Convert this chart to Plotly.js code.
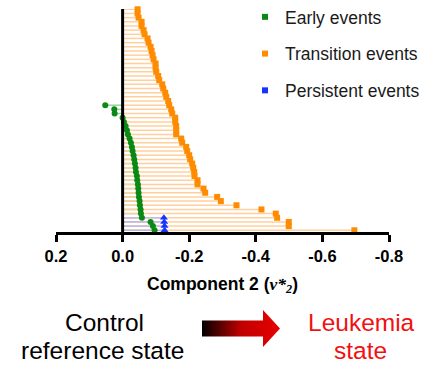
<!DOCTYPE html>
<html>
<head>
<meta charset="utf-8">
<script src="https://cdn.plot.ly/plotly-3.0.1.min.js"></script>
<style>html,body{margin:0;padding:0;background:#fff;}#chart{width:439px;height:368px;}</style>
</head>
<body>
<div id="chart"></div>
<script>
// ---- Data (listed top row to bottom row) ----
const seriesNames = ["Early events", "Transition events", "Persistent events"];
const transitionValues = [-0.045,-0.045,-0.048,-0.057,-0.057,-0.063,-0.066,-0.075,-0.078,-0.084,-0.087,-0.090,-0.093,-0.099,-0.099,-0.101,-0.107,-0.110,-0.119,-0.122,-0.128,-0.131,-0.137,-0.140,-0.146,-0.149,-0.158,-0.158,-0.161,-0.161,-0.161,-0.176,-0.179,-0.191,-0.194,-0.200,-0.203,-0.209,-0.212,-0.215,-0.216,-0.225,-0.225,-0.243,-0.248,-0.284,-0.295,-0.342,-0.417,-0.460,-0.464,-0.499,-0.499,-0.696];
const earlyValues = [0.052,0.025,0.024,0.000,-0.004,-0.009,-0.013,-0.016,-0.021,-0.025,-0.028,-0.030,-0.033,-0.035,-0.037,-0.039,-0.040,-0.043,-0.044,-0.046,-0.047,-0.048,-0.049,-0.051,-0.052,-0.054,-0.055,-0.058,-0.084,-0.091,-0.096];
const persistentValues = [-0.124,-0.125,-0.126,-0.126];
const tickValues = [0.2, 0.0, -0.2, -0.4, -0.6, -0.8];
const tickLabels = ["0.2", "0.0", "-0.2", "-0.4", "-0.6", "-0.8"];
const xTitle = "Component 2 (<i><span style=\"font-family:Liberation Serif\">v*<sub>2</sub></span></i>)";
const leftLabel = ["Control", "reference state"];
const rightLabel = ["Leukemia", "state"];

// rank of each row (0 = bottom row)
function ranks(vals) { return vals.map((v, i) => vals.length - 1 - i); }
function stems(vals) {
  const r = ranks(vals), x = [], y = [];
  vals.forEach((v, i) => { x.push(0, v, null); y.push(r[i], r[i], null); });
  return {x, y};
}

const colors = {early: "#0a8a14", trans: "#ff8c00", pers: "#1533ff"};
const lineColors = {early: "#9fd09f", trans: "#ffcf9e", pers: "#b7b3f2"};

const sE = stems(earlyValues), sT = stems(transitionValues), sP = stems(persistentValues);
const traces = [
  {x: sE.x, y: sE.y, mode: "lines", line: {color: lineColors.early, width: 1.5}, showlegend: false, hoverinfo: "skip"},
  {x: sT.x, y: sT.y, mode: "lines", line: {color: lineColors.trans, width: 1.5}, showlegend: false, hoverinfo: "skip"},
  {x: sP.x, y: sP.y, mode: "lines", line: {color: lineColors.pers, width: 1.2}, showlegend: false, hoverinfo: "skip"},
  {x: transitionValues, y: ranks(transitionValues), mode: "markers", cliponaxis: false,
   marker: {symbol: "square", size: 6, color: colors.trans}, showlegend: false},
  {x: earlyValues, y: ranks(earlyValues), mode: "markers", cliponaxis: false,
   marker: {symbol: "circle", size: 6, color: colors.early}, showlegend: false},
  {x: persistentValues, y: ranks(persistentValues), mode: "markers", cliponaxis: false,
   marker: {symbol: "triangle-up", size: 7, color: colors.pers}, showlegend: false},
  // legend entries
  {x: [null], y: [null], mode: "markers", name: seriesNames[0], legendgroup: "a",
   marker: {symbol: "square", size: 6, color: colors.early}},
  {x: [null], y: [null], mode: "markers", name: seriesNames[1], legendgroup: "b",
   marker: {symbol: "square", size: 6, color: colors.trans}},
  {x: [null], y: [null], mode: "markers", name: seriesNames[2], legendgroup: "c",
   marker: {symbol: "square", size: 6, color: colors.pers}}
];

// plot area in px: x 56..389, y 9..232
const PL = 56, PR = 389, PT = 9, PB = 232;
const px = v => (v - PL) / (PR - PL);
const py = v => (PB - v) / (PB - PT);

const arrowSvg = '<svg xmlns="http://www.w3.org/2000/svg" width="78" height="37" viewBox="0 0 78 37" preserveAspectRatio="none">' +
  '<defs><linearGradient id="g" x1="0" y1="0" x2="1" y2="0">' +
  '<stop offset="0" stop-color="#000"/><stop offset="0.5" stop-color="#c00000"/><stop offset="1" stop-color="#e80000"/></linearGradient></defs>' +
  '<path d="M0 10.5 H61 V0 L78 18.5 L61 37 V26.5 H0 Z" fill="url(#g)"/></svg>';

const annFont = {family: "Arial, 'Liberation Sans', sans-serif", size: 24.5};
const redFont = Object.assign({}, annFont, {color: "#f21010"});
const layout = {
  width: 439, height: 368,
  margin: {l: PL, r: 439 - PR, t: PT, b: 368 - PB, autoexpand: false},
  paper_bgcolor: "#fff", plot_bgcolor: "#fff",
  font: {family: "Arial, 'Liberation Sans', sans-serif", color: "#000"},
  xaxis: {
    range: [0.2, -0.8], tickvals: tickValues, ticktext: tickLabels,
    showgrid: false, zeroline: false, automargin: false,
    showline: true, linecolor: "#000", linewidth: 3,
    ticks: "outside", ticklen: 7, tickwidth: 3, tickcolor: "#000",
    tickfont: {size: 16.5, weight: "bold", color: "#000"},
    title: {text: xTitle, font: {size: 17.5, weight: "bold", color: "#000"}, standoff: 14}
  },
  yaxis: {range: [-0.41, 53.07], showgrid: false, zeroline: false, showline: false,
          showticklabels: false, ticks: "", automargin: false},
  shapes: [{type: "line", xref: "x", yref: "paper", x0: 0, x1: 0, y0: 0, y1: 1,
            line: {color: "#000", width: 3}, layer: "above"}],
  legend: {x: px(245), y: 1.045, xanchor: "left", yanchor: "top", traceorder: "grouped",
           tracegroupgap: 11, font: {size: 17.5, color: "#1a1a1a"}, bgcolor: "rgba(0,0,0,0)"},
  annotations: [
    {text: leftLabel[0], xref: "paper", yref: "paper", x: px(104), y: py(322), showarrow: false, font: annFont, xanchor: "center", yanchor: "middle"},
    {text: leftLabel[1], xref: "paper", yref: "paper", x: px(102), y: py(350), showarrow: false, font: annFont, xanchor: "center", yanchor: "middle"},
    {text: rightLabel[0], xref: "paper", yref: "paper", x: px(361), y: py(322), showarrow: false, font: redFont, xanchor: "center", yanchor: "middle"},
    {text: rightLabel[1], xref: "paper", yref: "paper", x: px(360.5), y: py(350), showarrow: false, font: redFont, xanchor: "center", yanchor: "middle"}
  ],
  images: [{
    source: "data:image/svg+xml;charset=utf-8," + encodeURIComponent(arrowSvg),
    xref: "paper", yref: "paper", x: px(202), y: py(310), sizex: (280 - 202) / (PR - PL), sizey: (347 - 310) / (PB - PT),
    xanchor: "left", yanchor: "top", sizing: "stretch", layer: "above"
  }]
};

Plotly.newPlot("chart", traces, layout, {displayModeBar: false, staticPlot: true});
</script>
</body>
</html>
